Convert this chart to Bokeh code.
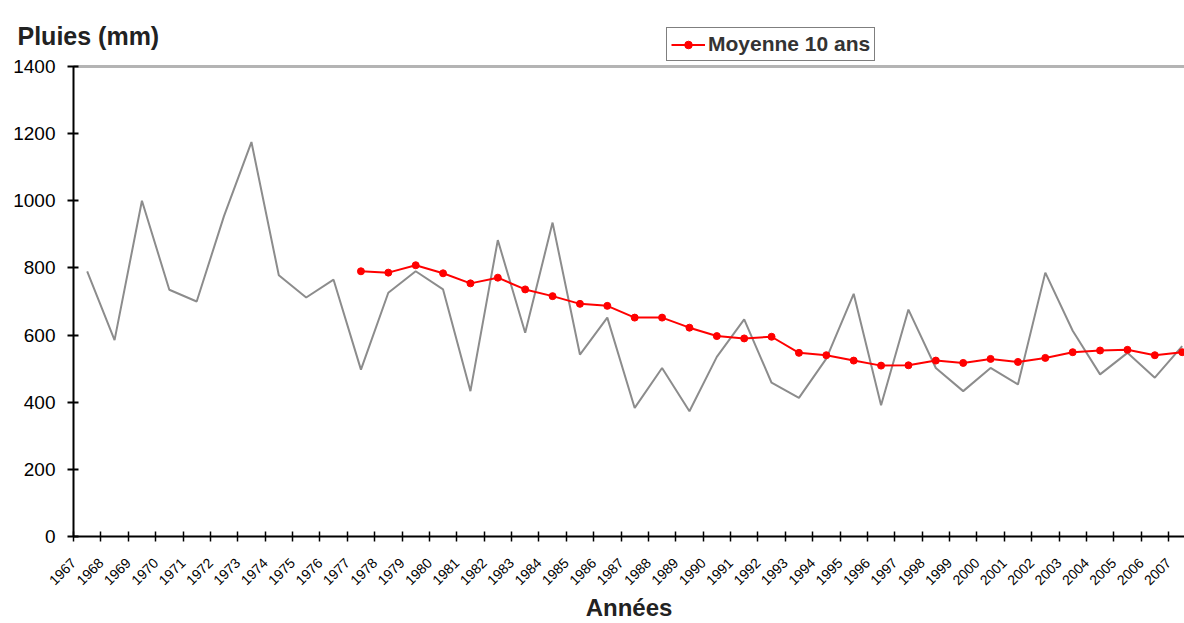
import math
from bokeh.plotting import figure
from bokeh.models import (Range1d, FixedTicker, Label, Legend, LegendItem)
from bokeh.embed import file_html
from bokeh.resources import INLINE

# ---- data ----
years = list(range(1967, 2008))
rain = [790, 585, 1000, 735, 700, 955, 1175, 778, 712, 765,
        497, 726, 790, 736, 433, 883, 607, 935, 542, 652,
        383, 502, 373, 535, 647, 458, 413, 530, 723, 391,
        676, 502, 433, 502, 453, 786, 613, 483, 547, 473,
        567]
avg_years = list(range(1977, 2008))
avg10 = [790, 786, 808, 784, 754, 771, 736, 716, 693, 687,
         652, 652, 622, 597, 590, 595, 547, 540, 524, 509,
         510, 524, 517, 529, 520, 532, 549, 554, 556, 540,
         549]
y_ticks = [0, 200, 400, 600, 800, 1000, 1200, 1400]
legend_label = "Moyenne 10 ans"
y_title = "Pluies (mm)"
x_title = "Années"

FONT = "Liberation Sans"
RED = "#ff0000"
GREY = "#8c8c8c"
Y_MAX = 1400
X_FIRST = years[0] - 0.5
X_LAST = years[-1] + 0.5

# The frame covers the whole canvas; both axes are pinned at the plot-area
# edges so that titles, legend and tick labels all draw inside it.
W, H = 1184, 623
AXIS_Y = 536           # px from canvas top to the x axis (value 0)
PLOT_H = 470           # px from 1400 down to 0
PX_PER_YEAR = 27.375
AXIS_X = 73            # px from canvas left to the y axis
PX_PER_MM = PLOT_H / Y_MAX
Y_START = -(H - AXIS_Y) / PX_PER_MM
Y_END = AXIS_Y / PX_PER_MM
X_START = X_FIRST - AXIS_X / PX_PER_YEAR
X_END = X_START + W / PX_PER_YEAR

p = figure(width=W, height=H, output_backend="svg", toolbar_location=None,
           x_range=Range1d(X_START, X_END), y_range=Range1d(Y_START, Y_END),
           min_border_left=0, min_border_right=0, min_border_top=0,
           min_border_bottom=0)
p.outline_line_color = None
p.xgrid.visible = False
p.ygrid.visible = False
p.background_fill_color = "white"
p.border_fill_color = "white"

ya = p.yaxis[0]
ya.fixed_location = X_FIRST
ya.bounds = (0, Y_MAX)
ya.ticker = FixedTicker(ticks=y_ticks)
ya.axis_line_color = "black"
ya.axis_line_width = 2
ya.major_tick_line_color = "black"
ya.major_tick_line_width = 2
ya.major_tick_in = 5
ya.major_tick_out = 6
ya.minor_tick_line_color = None
ya.major_label_text_font = FONT
ya.major_label_text_font_size = "19px"
ya.major_label_text_color = "black"
ya.major_label_standoff = 12

# x axis: ticks at category boundaries, label anchored at each boundary
xa = p.xaxis[0]
bounds = [y - 0.5 for y in years]
xa.fixed_location = 0
xa.bounds = (X_FIRST, X_LAST)
xa.ticker = FixedTicker(ticks=bounds)
xa.major_label_overrides = {b: str(y) for b, y in zip(bounds, years)}
xa.major_label_orientation = math.pi / 4
xa.axis_line_color = "black"
xa.axis_line_width = 2
xa.major_tick_line_color = "black"
xa.major_tick_line_width = 1.5
xa.major_tick_in = 5
xa.major_tick_out = 5
xa.minor_tick_line_color = None
xa.major_label_text_font = FONT
xa.major_label_text_font_size = "14px"
xa.major_label_text_color = "black"
xa.major_label_standoff = 19
xa.axis_label = x_title
xa.axis_label_text_font = FONT
xa.axis_label_text_font_style = "bold"
xa.axis_label_text_font_size = "24px"
xa.axis_label_text_color = "#222222"
xa.axis_label_standoff = 1

# grey top border of the plot area (at 1400)
p.segment(x0=[X_FIRST], y0=[Y_MAX], x1=[X_LAST + 1], y1=[Y_MAX],
          line_color="#b4b4b4", line_width=3)

p.line(years, rain, line_color=GREY, line_width=2)
r_line = p.line(avg_years, avg10, line_color=RED, line_width=2)
r_pts = p.scatter(avg_years, avg10, marker="circle", size=7, fill_color=RED, line_color=RED)

legend = Legend(items=[LegendItem(label=legend_label, renderers=[r_line, r_pts])],
                location=(666, H - 61), orientation="horizontal")
legend.label_text_font = FONT
legend.label_text_font_style = "bold"
legend.label_text_font_size = "21px"
legend.label_text_color = "#333333"
legend.border_line_color = "black"
legend.border_line_width = 1.5
legend.background_fill_color = "white"
legend.background_fill_alpha = 1
legend.padding = 4
legend.margin = 0
legend.spacing = 0
legend.glyph_width = 34
legend.glyph_height = 19
legend.label_standoff = 3
legend.label_height = 19
p.add_layout(legend, "center")

p.add_layout(Label(x=17, y=H - 35, x_units="screen", y_units="screen",
                   text=y_title, text_font=FONT, text_font_style="bold",
                   text_font_size="25px", text_baseline="alphabetic",
                   text_color="#222222"))

open("out.html", "w").write(file_html(p, INLINE))
